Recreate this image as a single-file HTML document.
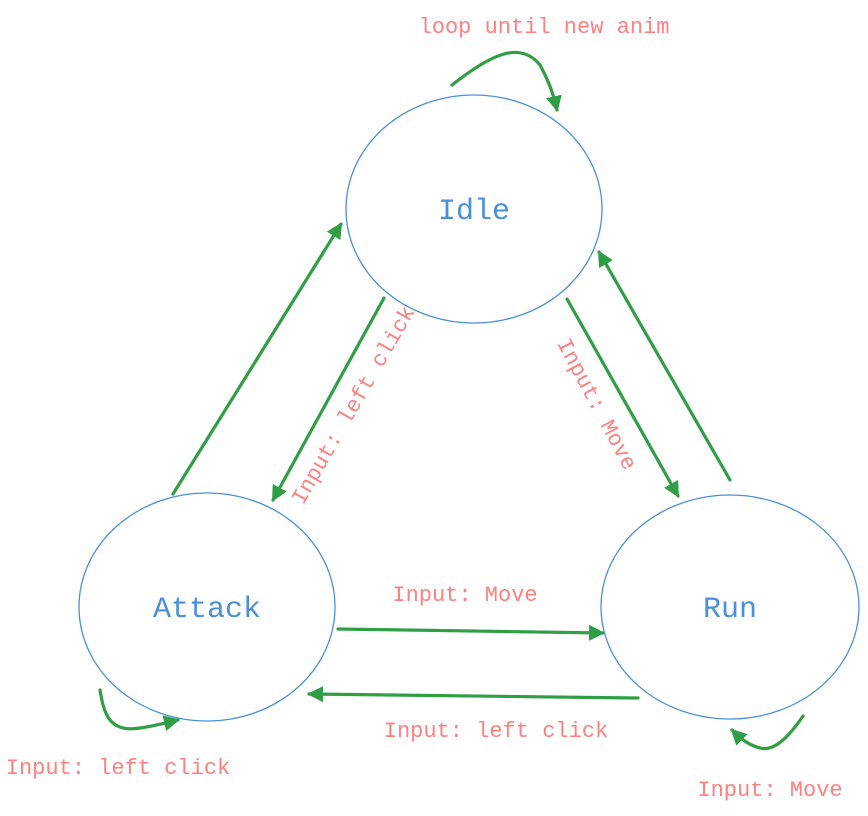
<!DOCTYPE html>
<html><head><meta charset="utf-8"><style>
html,body{margin:0;padding:0;background:#fff;}
svg{display:block;}
text{font-family:"Liberation Mono",monospace;}
.l{fill:#ff8080;font-size:22px;}
.n{fill:#4a90d9;font-size:30px;}
.a{stroke:#2f9e44;stroke-width:3.2;fill:none;stroke-linecap:round;}
</style></head><body>
<svg width="868" height="816" viewBox="0 0 868 816">
<defs>
<marker id="h" markerWidth="20" markerHeight="20" refX="14" refY="8" orient="auto" markerUnits="userSpaceOnUse"><path d="M0,0 L16,8 L0,16 Z" fill="#2f9e44"/></marker></defs>
<g fill="none" stroke="#4a90d9" stroke-width="1.3">
<ellipse cx="474" cy="209" rx="128" ry="114"/>
<ellipse cx="207" cy="607" rx="128" ry="114"/>
<ellipse cx="730" cy="607" rx="129" ry="112"/>
</g>
<text class="n" x="474" y="219" text-anchor="middle">Idle</text>
<text class="n" x="207" y="617" text-anchor="middle">Attack</text>
<text class="n" x="730" y="617" text-anchor="middle">Run</text>
<g class="a">
<path d="M452,85 C490,55 520,40 540,65 C548,80 553,92 557,110" marker-end="url(#h)"/>
<path d="M173,494 L341,224" marker-end="url(#h)"/>
<path d="M384,298 L273,500" marker-end="url(#h)"/>
<path d="M567,299 L678,496" marker-end="url(#h)"/>
<path d="M730,480 L599,252" marker-end="url(#h)"/>
<path d="M338,629 L603,633" marker-end="url(#h)"/>
<path d="M638,698 L309,694" marker-end="url(#h)"/>
<path d="M100,690 C104,715 110,733 140,728 C155,726 165,723 178,720" marker-end="url(#h)"/>
<path d="M803,716 C790,735 775,752 760,748 C748,745 740,738 732,730" marker-end="url(#h)"/>
</g>
<text class="l" x="544" y="33" text-anchor="middle">loop until new anim</text>
<text class="l" x="465" y="601" text-anchor="middle">Input: Move</text>
<text class="l" x="496" y="737" text-anchor="middle">Input: left click</text>
<text class="l" x="118" y="774" text-anchor="middle">Input: left click</text>
<text class="l" x="770" y="796" text-anchor="middle">Input: Move</text>
<text class="l" x="0" y="0" text-anchor="middle" transform="translate(353,405) rotate(-60) translate(0,7)">Input: left click</text>
<text class="l" x="0" y="0" text-anchor="middle" transform="translate(597,404) rotate(62) translate(0,7)">Input: Move</text>
</svg>
</body></html>
